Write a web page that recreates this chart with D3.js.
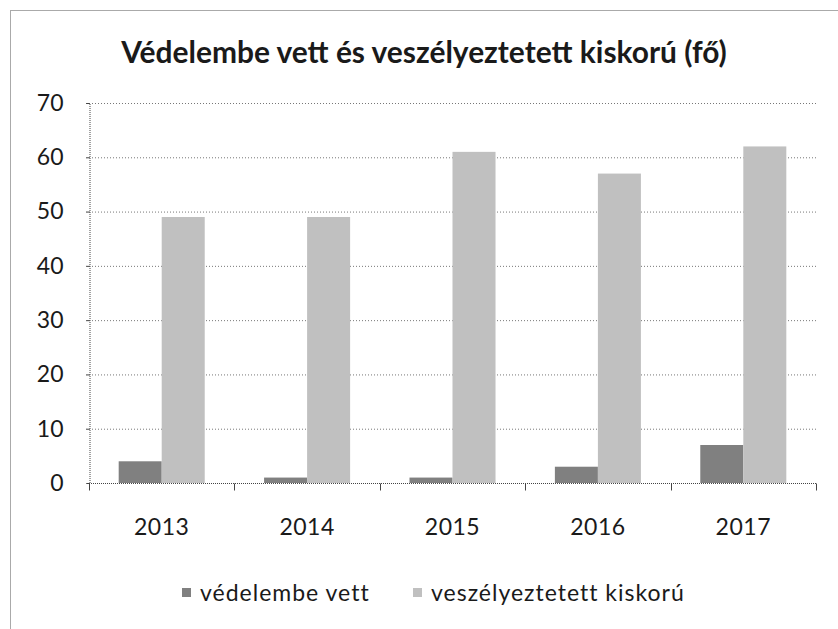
<!DOCTYPE html>
<html>
<head>
<meta charset="utf-8">
<script src="https://cdn.jsdelivr.net/npm/d3@7"></script>
<style>
  body { margin: 0; background: #fff; }
  text { font-family: Lato, "Open Sans", sans-serif; fill: #1a1a1a; }
</style>
</head>
<body>
<div id="chart"></div>
<script>
var years = ["2013", "2014", "2015", "2016", "2017"];
var seriesNames = ["védelembe vett", "veszélyeztetett kiskorú"];
var vedelembe = [4, 1, 1, 3, 7];
var veszelyeztetett = [49, 49, 61, 57, 62];
var yTicks = [0, 10, 20, 30, 40, 50, 60, 70];

var width = 838, height = 629;
var margin = {top: 103, right: 22, bottom: 146, left: 89};
var colors = ["#808080", "#c0c0c0"];

var svg = d3.select("#chart").append("svg").attr("width", width).attr("height", height);

// outer frame of the chart object
svg.append("rect").attr("x", 10.5).attr("y", 10.5).attr("width", 900).attr("height", 700)
  .attr("fill", "none").attr("stroke", "#555").attr("stroke-dasharray", "1,1");

var title = svg.append("text").attr("x", 424).attr("y", 63).attr("text-anchor", "middle")
  .style("font-weight", "bold").style("font-size", "26px")
  .text("Védelembe vett és veszélyeztetett kiskorú (fő)");
// fit title to the width seen in the picture
var tw = title.node().getComputedTextLength();
title.style("font-size", (26 * 606 / tw) + "px");

var x = d3.scaleBand().domain(years).range([margin.left, width - margin.right]);
var x1 = d3.scaleBand().domain(seriesNames).range([0, x.bandwidth()]).paddingInner(0).paddingOuter(0.69);
var y = d3.scaleLinear().domain([0, 70]).range([height - margin.bottom, margin.top]);

var g = svg.append("g");

// gridlines
g.selectAll(".grid").data(yTicks.slice(1)).enter().append("line")
  .attr("x1", margin.left - 3).attr("x2", width - margin.right)
  .attr("y1", function(d) { return y(d) + 0.5; }).attr("y2", function(d) { return y(d) + 0.5; })
  .attr("stroke", "#777").attr("stroke-width", 1).attr("stroke-dasharray", "1,2");

// y axis
var yAxis = d3.axisLeft(y).tickValues(yTicks).tickSize(3).tickPadding(23);
var ya = svg.append("g").attr("transform", "translate(" + (margin.left + 0.5) + ",0)").call(yAxis);
ya.select(".domain").attr("stroke", "#444").attr("stroke-dasharray", "1,1");
ya.selectAll(".tick line").attr("stroke", "#444");
ya.selectAll("text").style("font-size", "23px").attr("fill", "#1a1a1a");

// bars
var data = years.map(function(yr, i) { return {year: yr, vals: [vedelembe[i], veszelyeztetett[i]]}; });
var groups = g.selectAll(".yr").data(data).enter().append("g")
  .attr("transform", function(d) { return "translate(" + x(d.year) + ",0)"; });
groups.selectAll("rect").data(function(d) {
    return d.vals.map(function(v, k) { return {name: seriesNames[k], v: v, k: k}; });
  }).enter().append("rect")
  .attr("x", function(d) { return x1(d.name); })
  .attr("width", x1.bandwidth())
  .attr("y", function(d) { return y(d.v); })
  .attr("height", function(d) { return y(0) - y(d.v); })
  .attr("fill", function(d) { return colors[d.k]; });

// x axis with ticks at category boundaries
var xa = svg.append("g").attr("transform", "translate(0," + (y(0) + 0.5) + ")");
xa.append("line").attr("x1", margin.left).attr("x2", width - margin.right)
  .attr("stroke", "#444").attr("stroke-dasharray", "1,1");
var bounds = years.map(function(yr) { return x(yr); }).concat([x.range()[1]]);
xa.selectAll(".tk").data(bounds).enter().append("line")
  .attr("x1", function(d) { return Math.round(d) + 0.5; }).attr("x2", function(d) { return Math.round(d) + 0.5; })
  .attr("y1", 0).attr("y2", 7).attr("stroke", "#444");
xa.selectAll(".lbl").data(years).enter().append("text")
  .attr("x", function(d) { return x(d) + x.bandwidth() / 2; })
  .attr("y", 51).attr("text-anchor", "middle").style("font-size", "23px").style("letter-spacing", "0.5px")
  .text(function(d) { return d; });

// legend
var legend = svg.append("g").attr("transform", "translate(0,593)");
var lx = [182, 413];
seriesNames.forEach(function(name, k) {
  legend.append("rect").attr("x", lx[k]).attr("y", -5).attr("width", 9).attr("height", 9).attr("fill", colors[k]);
  legend.append("text").attr("x", lx[k] + 18).attr("y", 8).style("font-size", "23px")
    .style("letter-spacing", "1px").text(name);
});
</script>
</body>
</html>
